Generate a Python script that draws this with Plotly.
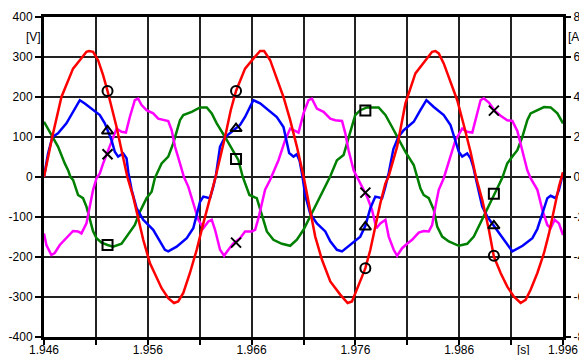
import plotly.graph_objects as go

# ---- data (time in s, values in V-scale of left axis) ----
t_red = [1.94600, 1.94681, 1.94768, 1.94880, 1.94945, 1.95009, 1.95034, 1.95073, 1.95121, 1.95170,
         1.95212, 1.95251, 1.95299, 1.95347, 1.95403, 1.95459, 1.95507, 1.95556, 1.95620, 1.95733,
         1.95797, 1.95852, 1.95893, 1.95942, 1.96006, 1.96071, 1.96135, 1.96199, 1.96253, 1.96344,
         1.96399, 1.96450, 1.96537, 1.96617, 1.96682, 1.96721, 1.96779, 1.96843, 1.96907, 1.96972,
         1.97036, 1.97102, 1.97148, 1.97213, 1.97278, 1.97358, 1.97454, 1.97525, 1.97567, 1.97615,
         1.97664, 1.97696, 1.97744, 1.97792, 1.97840, 1.97889, 1.97918, 1.98002, 1.98082, 1.98178,
         1.98275, 1.98339, 1.98371, 1.98403, 1.98451, 1.98516, 1.98581, 1.98644, 1.98709, 1.98762,
         1.98822, 1.98886, 1.98934, 1.98999, 1.99063, 1.99127, 1.99192, 1.99240, 1.99288, 1.99353,
         1.99417, 1.99465, 1.99513, 1.99561, 1.99600]
v_red = [0, 102, 200, 271, 292, 313, 315, 313, 292, 254,
         215, 175, 125, 67, 0, -49, -103, -157, -215, -278,
         -303, -315, -311, -290, -240, -182, -116, -53, 0, 100,
         167, 215, 271, 296, 315, 315, 292, 246, 200, 142,
         76, 0, -65, -149, -207, -261, -294, -315, -311, -282,
         -249, -228, -182, -124, -66, -16, 0, 76, 184, 259,
         292, 313, 315, 309, 284, 238, 192, 130, 63, 0,
         -57, -132, -199, -240, -274, -299, -315, -307, -282, -240,
         -190, -141, -82, -24, 12]

t_blue = [1.94600, 1.94639, 1.94681, 1.94735, 1.94816, 1.94880, 1.94945, 1.94993, 1.95073, 1.95138,
          1.95186, 1.95218, 1.95251, 1.95282, 1.95314, 1.95363, 1.95395, 1.95413, 1.95444, 1.95492,
          1.95556, 1.95652, 1.95717, 1.95765, 1.95797, 1.95878, 1.95975, 1.96038, 1.96071, 1.96103,
          1.96135, 1.96199, 1.96231, 1.96257, 1.96296, 1.96344, 1.96409, 1.96489, 1.96537, 1.96617,
          1.96682, 1.96762, 1.96843, 1.96907, 1.96933, 1.96962, 1.97004, 1.97036, 1.97063, 1.97088,
          1.97116, 1.97165, 1.97229, 1.97310, 1.97358, 1.97422, 1.97471, 1.97551, 1.97647, 1.97696,
          1.97744, 1.97792, 1.97857, 1.97889, 1.97921, 1.97966, 1.98014, 1.98065, 1.98162, 1.98226,
          1.98284, 1.98355, 1.98451, 1.98516, 1.98564, 1.98596, 1.98629, 1.98677, 1.98709, 1.98735,
          1.98757, 1.98789, 1.98822, 1.98873, 1.98934, 1.98999, 1.99063, 1.99112, 1.99211, 1.99305,
          1.99353, 1.99401, 1.99449, 1.99481, 1.99530, 1.99561, 1.99600]
v_blue = [0, 59, 100, 109, 134, 163, 192, 184, 167, 155,
          134, 113, 92, 63, 51, 59, 47, 10, -32, -78,
          -107, -132, -161, -182, -186, -174, -153, -128, -95, -62,
          -49, -53, -24, 5, 76, 100, 113, 130, 150, 192,
          184, 167, 150, 125, 92, 60, 51, 57, 40, 5,
          -45, -92, -116, -136, -161, -182, -186, -170, -149, -122,
          -78, -49, -53, -24, 10, 70, 100, 117, 138, 167,
          192, 175, 155, 130, 92, 63, 51, 59, 47, 26,
          0, -41, -74, -100, -122, -145, -170, -186, -172, -153,
          -130, -91, -53, -47, -53, -32, 9]

t_green = [1.94600, 1.94639, 1.94681, 1.94735, 1.94800, 1.94832, 1.94855, 1.94880, 1.94928, 1.94976,
           1.95009, 1.95041, 1.95073, 1.95106, 1.95154, 1.95212, 1.95266, 1.95347, 1.95411, 1.95475,
           1.95524, 1.95588, 1.95637, 1.95669, 1.95733, 1.95797, 1.95845, 1.95910, 1.95942, 1.96023,
           1.96103, 1.96168, 1.96216, 1.96264, 1.96344, 1.96409, 1.96473, 1.96515, 1.96537, 1.96579,
           1.96650, 1.96682, 1.96747, 1.96810, 1.96892, 1.96972, 1.97036, 1.97100, 1.97165, 1.97229,
           1.97293, 1.97358, 1.97422, 1.97486, 1.97551, 1.97599, 1.97647, 1.97712, 1.97824, 1.97889,
           1.97953, 1.98002, 1.98082, 1.98162, 1.98198, 1.98226, 1.98258, 1.98307, 1.98355, 1.98388,
           1.98436, 1.98500, 1.98596, 1.98677, 1.98741, 1.98789, 1.98837, 1.98902, 1.98967, 1.99015,
           1.99063, 1.99112, 1.99160, 1.99208, 1.99256, 1.99288, 1.99353, 1.99417, 1.99481, 1.99546,
           1.99600]
v_green = [138, 121, 102, 76, 34, 17, 0, -7, -45, -53,
           -74, -107, -136, -153, -164, -170, -174, -167, -145, -120,
           -87, -53, -37, -2, 34, 51, 84, 142, 155, 163,
           174, 174, 159, 134, 100, 72, 42, 0, -16, -45,
           -53, -82, -136, -157, -167, -172, -157, -132, -99, -66,
           -32, 2, 42, 55, 113, 155, 167, 174, 174, 155,
           125, 100, 63, 30, 0, -28, -45, -53, -82, -124,
           -149, -161, -172, -167, -149, -124, -99, -64, -28, -2,
           34, 51, 67, 100, 142, 159, 167, 175, 174, 159,
           134]

t_magenta = [1.94600, 1.94623, 1.94671, 1.94703, 1.94752, 1.94800, 1.94848, 1.94880, 1.94928, 1.94961,
             1.95009, 1.95041, 1.95073, 1.95106, 1.95138, 1.95170, 1.95212, 1.95251, 1.95299, 1.95347,
             1.95389, 1.95427, 1.95475, 1.95507, 1.95540, 1.95588, 1.95652, 1.95700, 1.95749, 1.95797,
             1.95830, 1.95862, 1.95910, 1.95948, 1.95990, 1.96038, 1.96087, 1.96135, 1.96183, 1.96216,
             1.96248, 1.96296, 1.96335, 1.96376, 1.96424, 1.96489, 1.96537, 1.96602, 1.96634, 1.96666,
             1.96698, 1.96730, 1.96779, 1.96859, 1.96923, 1.96972, 1.97004, 1.97052, 1.97100, 1.97148,
             1.97181, 1.97229, 1.97293, 1.97358, 1.97406, 1.97471, 1.97503, 1.97534, 1.97583, 1.97615,
             1.97647, 1.97712, 1.97760, 1.97802, 1.97840, 1.97889, 1.97921, 1.97969, 1.98002, 1.98050,
             1.98098, 1.98146, 1.98210, 1.98258, 1.98307, 1.98339, 1.98371, 1.98403, 1.98451, 1.98516,
             1.98564, 1.98629, 1.98677, 1.98726, 1.98774, 1.98806, 1.98837, 1.98886, 1.98941, 1.98999,
             1.99063, 1.99112, 1.99160, 1.99192, 1.99224, 1.99256, 1.99288, 1.99320, 1.99353, 1.99401,
             1.99449, 1.99481, 1.99520, 1.99561, 1.99600]
v_magenta = [-141, -170, -195, -190, -170, -157, -145, -135, -136, -141,
             -116, -74, -32, -3, 9, 34, 62, 92, 121, 113,
             111, 150, 192, 196, 180, 167, 159, 146, 142, 140,
             117, 76, 34, 0, -24, -66, -107, -128, -111, -107,
             -132, -182, -197, -182, -166, -153, -136, -136, -132, -103,
             -66, -32, -7, 42, 92, 121, 117, 111, 159, 192,
             196, 171, 163, 146, 142, 140, 109, 67, 17, 0,
             -16, -49, -82, -128, -116, -107, -149, -182, -197, -178,
             -167, -157, -139, -135, -136, -120, -74, -32, -3, 51,
             92, 121, 113, 111, 159, 192, 197, 186, 166, 153,
             142, 140, 115, 84, 51, 17, -3, -18, -32, -82,
             -120, -128, -107, -116, -145]

# sample markers
t_marks = [1.95212, 1.96450, 1.97696, 1.98934]
red_marks = [215, 215, -228, -197]
blue_marks = [115, 121, -125, -122]
green_marks = [-170, 45, 166, -42]
magenta_marks = [57, -164, -39, 166]

# axes ticks
x_ticks = [1.946, 1.951, 1.956, 1.961, 1.966, 1.971, 1.976, 1.981, 1.986, 1.991, 1.996]
x_tick_labels = ["1.946", "", "1.956", "", "1.966", "", "1.976", "", "1.986", "", "1.996"]
v_ticks = [-400, -300, -200, -100, 0, 100, 200, 300, 400]
v_tick_labels = ["-400", "-300", "-200", "-100", "0", "100", "200", "300", "400"]
a_ticks = [-8, -6, -4, -2, 0, 2, 4, 6, 8]
a_tick_labels = ["-8", "-6", "-4", "-2", "0", "2", "4", "6", "8"]

fig = go.Figure()
for t, v, c in [(t_green, v_green, "#008000"),
                (t_magenta, v_magenta, "#ff00ff"),
                (t_blue, v_blue, "#0000ff"),
                (t_red, v_red, "#ff0000")]:
    fig.add_trace(go.Scatter(x=t, y=v, mode="lines", line=dict(color=c, width=2.5),
                             hoverinfo="skip"))

for vals, sym in [(red_marks, "circle-open"), (blue_marks, "triangle-up-open"),
                  (green_marks, "square-open"), (magenta_marks, "x-thin-open")]:
    fig.add_trace(go.Scatter(x=t_marks, y=vals, mode="markers",
                             marker=dict(symbol=sym, size=10, color="black",
                                         line=dict(color="black", width=2)),
                             hoverinfo="skip"))

# empty trace to attach the right axis
fig.add_trace(go.Scatter(x=[], y=[], yaxis="y2", hoverinfo="skip"))

axis_common = dict(showline=True, linewidth=3, linecolor="black", ticks="outside",
                   tickwidth=2, tickcolor="black", zeroline=False, automargin=False,
                   ticklabeloverflow="allow",
                   tickfont=dict(size=12, color="black"))

fig.update_layout(
    width=579, height=355,
    margin=dict(l=44, r=16, t=17, b=18, autoexpand=False),
    paper_bgcolor="white", plot_bgcolor="white",
    showlegend=False,
    font=dict(family="Liberation Sans, Arial, sans-serif", size=12, color="black"),
    xaxis=dict(range=[1.946, 1.996], tickmode="array", tickvals=x_ticks, ticktext=x_tick_labels,
               ticklen=5, mirror=True, showgrid=True, gridcolor="#222222", gridwidth=1.5,
               ticklabelstandoff=-5, **axis_common),
    yaxis=dict(range=[-400, 400], tickmode="array", tickvals=v_ticks, ticktext=v_tick_labels,
               ticklen=6, showgrid=True, gridcolor="#222222", gridwidth=1.5, **axis_common),
    yaxis2=dict(range=[-8, 8], overlaying="y", side="right", tickmode="array",
                tickvals=a_ticks, ticktext=a_tick_labels, ticklen=5, showgrid=False,
                **axis_common),
    annotations=[
        dict(text="[V]", xref="paper", yref="y", x=-0.021, y=350, showarrow=False,
             xanchor="center", yanchor="middle", font=dict(size=12)),
        dict(text="[A]", xref="paper", yref="y", x=1.0058, y=350, showarrow=False,
             xanchor="left", yanchor="middle", font=dict(size=12)),
        dict(text="[s]", xref="x", yref="paper", x=1.9922, y=-0.04, showarrow=False,
             xanchor="center", yanchor="middle", font=dict(size=12)),
    ],
)

# page body without default margin/scrollbars so the figure fills the window exactly
fig.write_html("out.html", config={"displayModeBar": False},
               post_script="document.body.style.margin='0';document.body.style.overflow='hidden';")
